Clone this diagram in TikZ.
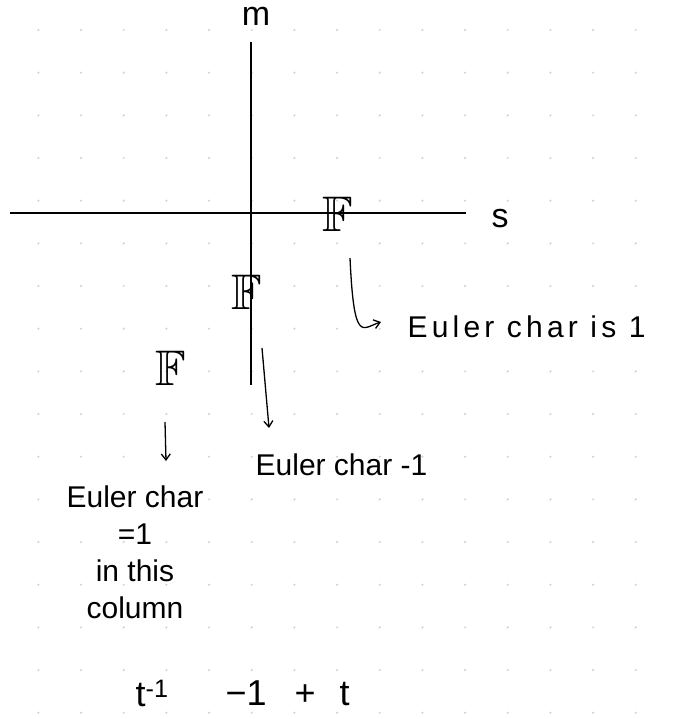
\documentclass[tikz,border=0pt]{standalone}
\usepackage{amssymb}
\usepackage{fontspec}
\setmainfont{Liberation Sans}
\usetikzlibrary{arrows.meta, positioning}
\definecolor{cdot}{HTML}{D4D4D4}
\tikzset{
  every picture/.style={line width=1.3pt},
  axis/.style={line width=1.5pt},
  hand/.style={font=\fontsize{30}{37}\selectfont, align=center, inner sep=1pt},
  small/.style={font=\fontsize{34}{34}\selectfont, inner sep=1pt, anchor=base},
  field/.style={font=\fontsize{50}{50}\selectfont, inner sep=0pt},
  arrow/.style={-{Straight Barb[length=6pt, width=9pt]}, line width=1.3pt},
  griddot/.style={fill=cdot},
}
\begin{document}
\begin{tikzpicture}[x=1pt, y=-1pt]
  \useasboundingbox[fill=white] (0,0) rectangle (677,719);
  % dotted paper
  \foreach \i in {0,...,14} {
    \foreach \j in {0,...,16} {\fill[griddot] (38.4+42.67*\i, 30+42.67*\j) circle (1.2pt);}
  }
  % axes
  \coordinate (xl) at (10,213); \coordinate (xr) at (466,213);
  \coordinate (yt) at (251,42); \coordinate (yb) at (251,385);
  \draw[axis] (xl) -- (xr);
  \draw[axis] (yt) -- (yb);
  \node[small] (m) at (256,26) {m};
  \node[small] (s) at (500,227) {s};
  % the three fields
  \node[field] (f1) at (338,214) {$\mathbb{F}$};
  \node[field] (f2) at (247,292) {$\mathbb{F}$};
  \node[field] (f3) at (171,368) {$\mathbb{F}$};
  % labels
  \node[hand, anchor=west] (e1) at (406,327) {\addfontfeature{LetterSpace=14}Euler char is 1};
  \node[hand, anchor=west] (e2) at (254,465) {Euler char -1};
  \node[hand, anchor=north] (e3) at (135,484) {Euler char\\=1\\in this\\column};
  % arrows
  \coordinate (a1) at (350,258); \coordinate (b1) at (381,322);
  \draw[arrow] (a1) .. controls (354,345) and (362,328) .. (b1);
  \coordinate (a2) at (262,348); \coordinate (b2) at (269,428);
  \draw[arrow] (a2) -- (b2);
  \coordinate (a3) at (165,422); \coordinate (b3) at (166,461);
  \draw[arrow] (a3) -- (b3);
  % polynomial
  \node[hand, anchor=west, font=\fontsize{36}{36}\selectfont] (p1) at (134,693) {t\textsuperscript{-1}};
  \node[hand, anchor=west, font=\fontsize{36}{36}\selectfont] (p2) at (224,693) {−1\hspace{28pt}+\hspace{24pt}t};
\end{tikzpicture}
\end{document}
